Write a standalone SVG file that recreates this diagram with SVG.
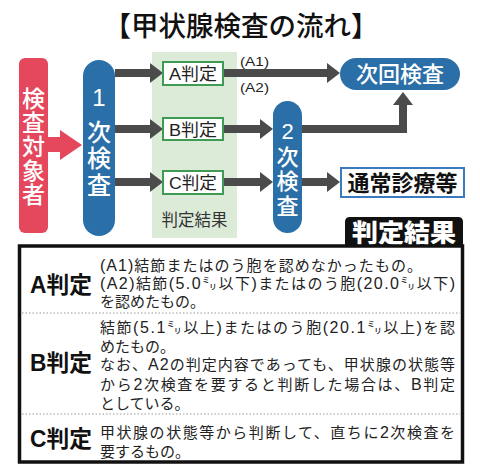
<svg xmlns="http://www.w3.org/2000/svg" width="480" height="473" viewBox="0 0 480 473">
<defs>
<style>
text{font-family:"Liberation Sans","Noto Sans CJK JP",sans-serif;}
.w{fill:#fff;font-weight:500;}
.judge{fill:#fff;stroke:#3f9a54;stroke-width:2;}
.jt{font-size:17px;fill:#222;text-anchor:middle;}
.arr{fill:none;stroke:#4b4b4b;stroke-width:8;stroke-linejoin:miter;marker-end:url(#ah);}
.body{font-size:15px;fill:#222;}
.l{font-size:16px;}
.lab{font-size:23px;font-weight:700;fill:#111;}
.sep{stroke:#999;stroke-width:1;stroke-dasharray:1.5 2;}
</style>
<marker id="ah" markerUnits="userSpaceOnUse" markerWidth="13" markerHeight="20" refX="0" refY="10" orient="auto">
<path d="M0,0 L13,10 L0,20 z" fill="#4b4b4b"/>
</marker>
</defs>
<rect width="480" height="473" fill="#fff"/>
<text x="241" y="36" font-size="27.5" font-weight="500" text-anchor="middle" fill="#111">【甲状腺検査の流れ】</text>

<g id="band">
<rect x="152" y="52" width="85" height="186" fill="#dcebd8"/>
<text x="194.5" y="226" font-size="16.5" text-anchor="middle" fill="#333">判定結果</text>
</g>

<g id="connectors">
<polygon points="47,137 60,137 60,130 82,145 60,160 60,152 47,152" fill="#e5475c"/>
<path class="arr" d="M115,73 H150"/>
<path class="arr" d="M115,129 H150"/>
<path class="arr" d="M115,182 H150"/>
<path class="arr" d="M223,73 H327"/>
<path class="arr" d="M223,129 H260"/>
<path class="arr" d="M223,182 H260"/>
<path class="arr" d="M302,182 H327"/>
<path class="arr" d="M302,129 H403 V105"/>
<text x="240" y="66" font-size="12.5" fill="#222" textLength="29" lengthAdjust="spacingAndGlyphs">(A1)</text>
<text x="240" y="92" font-size="12.5" fill="#222" textLength="29" lengthAdjust="spacingAndGlyphs">(A2)</text>
</g>

<g id="subjects">
<rect x="19" y="58" width="29" height="175" rx="6" fill="#e5475c"/>
<text class="w" font-size="23" text-anchor="middle"><tspan x="33.5" y="107">検</tspan><tspan x="33.5" y="131">査</tspan><tspan x="33.5" y="155">対</tspan><tspan x="33.5" y="179">象</tspan><tspan x="33.5" y="203">者</tspan></text>
</g>

<g id="first-exam">
<rect x="83" y="60" width="32" height="176" rx="16" fill="#2b6fa8"/>
<text class="w" font-size="24" text-anchor="middle"><tspan x="99" y="106">1</tspan><tspan x="99" y="141">次</tspan><tspan x="99" y="167">検</tspan><tspan x="99" y="194">査</tspan></text>
</g>

<g id="judge-a">
<rect class="judge" x="163" y="62" width="60" height="23"/>
<text class="jt" x="193" y="80" textLength="48" lengthAdjust="spacingAndGlyphs">A判定</text>
</g>
<g id="judge-b">
<rect class="judge" x="163" y="118" width="60" height="22"/>
<text class="jt" x="193" y="135.5" textLength="48" lengthAdjust="spacingAndGlyphs">B判定</text>
</g>
<g id="judge-c">
<rect class="judge" x="163" y="171" width="60" height="23"/>
<text class="jt" x="193" y="189" textLength="48" lengthAdjust="spacingAndGlyphs">C判定</text>
</g>

<g id="second-exam">
<rect x="273" y="101" width="29" height="132" rx="14.5" fill="#2b6fa8"/>
<text class="w" font-size="22" text-anchor="middle"><tspan x="287.5" y="139">2</tspan><tspan x="287.5" y="165">次</tspan><tspan x="287.5" y="189">検</tspan><tspan x="287.5" y="214">査</tspan></text>
</g>

<g id="next-exam">
<rect x="340" y="58" width="120" height="32" rx="16" fill="#2b6fa8"/>
<text class="w" x="400" y="82" font-size="22" text-anchor="middle">次回検査</text>
</g>

<g id="normal-care">
<rect x="341" y="168" width="123" height="29" fill="#fff" stroke="#3a7bbf" stroke-width="2"/>
<text x="402.5" y="190.5" font-size="22" font-weight="700" text-anchor="middle" fill="#111">通常診療等</text>
</g>

<g id="results">
<path d="M345,247 V222 Q345,217 350,217 H458 Q463,217 463,222 V247 z" fill="#111"/>
<text x="404" y="242" font-size="25" font-weight="900" fill="#fff" text-anchor="middle" textLength="104" lengthAdjust="spacingAndGlyphs">判定結果</text>
<rect x="19.5" y="246" width="443" height="216" fill="#fff" stroke="#111" stroke-width="3.5"/>
<line class="sep" x1="22" y1="313" x2="460" y2="313"/>
<line class="sep" x1="22" y1="414" x2="460" y2="414"/>
<text class="lab" x="30" y="293" textLength="62" lengthAdjust="spacingAndGlyphs">A判定</text>
<text class="lab" x="30" y="371" textLength="62" lengthAdjust="spacingAndGlyphs">B判定</text>
<text class="lab" x="30" y="447" textLength="62" lengthAdjust="spacingAndGlyphs">C判定</text>
<text class="body" x="100" y="271" textLength="322" lengthAdjust="spacing"><tspan class="l">(A1)</tspan>結節またはのう胞を認めなかったもの。</text>
<text class="body" x="100" y="289" textLength="355" lengthAdjust="spacing"><tspan class="l">(A2)</tspan>結節<tspan class="l">(5.0</tspan>㍉以下<tspan class="l">)</tspan>またはのう胞<tspan class="l">(20.0</tspan>㍉以下<tspan class="l">)</tspan></text>
<text class="body" x="100" y="307">を認めたもの。</text>
<text class="body" x="100" y="333" textLength="355" lengthAdjust="spacing">結節<tspan class="l">(5.1</tspan>㍉以上<tspan class="l">)</tspan>またはのう胞<tspan class="l">(20.1</tspan>㍉以上<tspan class="l">)</tspan>を認</text>
<text class="body" x="100" y="352">めたもの。</text>
<text class="body" x="100" y="370" textLength="355" lengthAdjust="spacing">なお、<tspan class="l">A2</tspan>の判定内容であっても、甲状腺の状態等</text>
<text class="body" x="100" y="390" textLength="355" lengthAdjust="spacing">から<tspan class="l">2</tspan>次検査を要すると判断した場合は、<tspan class="l">B</tspan>判定</text>
<text class="body" x="100" y="409">としている。</text>
<text class="body" x="100" y="438" textLength="355" lengthAdjust="spacing">甲状腺の状態等から判断して、直ちに<tspan class="l">2</tspan>次検査を</text>
<text class="body" x="100" y="457">要するもの。</text>
</g>
</svg>
